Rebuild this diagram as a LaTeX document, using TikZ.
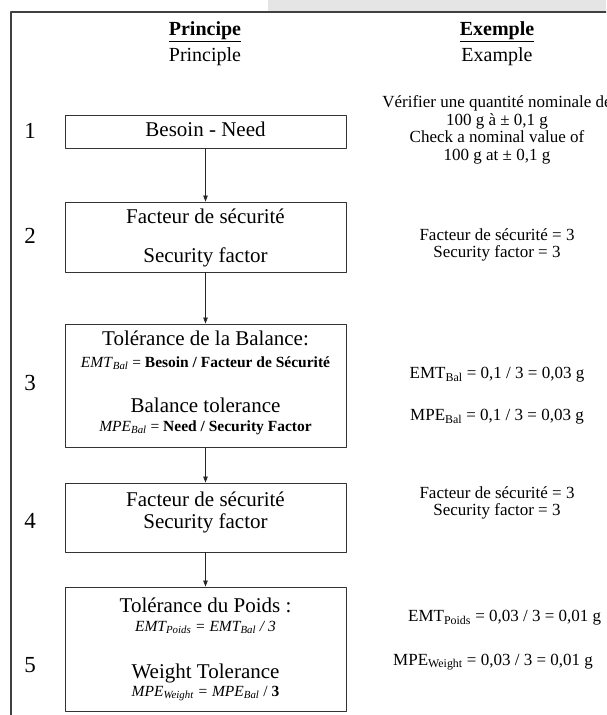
\documentclass[tikz,border=0pt]{standalone}
\usepackage{fontspec}
\setmainfont{Liberation Serif}
\usetikzlibrary{arrows.meta}

\begin{document}
\begin{tikzpicture}[x=1pt,y=-1pt,line cap=round,line join=round,>={Triangle[length=6pt,width=4.5pt]},
    stepbox/.style={draw=black!80,line width=0.9pt,minimum width=281pt,inner sep=0pt},
    boxtxt/.style={font=\fontsize{21}{24}\selectfont,text height=14pt,text depth=4pt,inner sep=0pt},
    formtxt/.style={font=\fontsize{15.5}{17}\selectfont,text height=11pt,text depth=3pt,inner sep=0pt},
    headtxt/.style={font=\fontsize{20}{24}\selectfont,inner sep=0pt},
    numtxt/.style={font=\fontsize{23}{24}\selectfont,inner sep=0pt},
    extxt/.style={font=\fontsize{17}{17.5}\selectfont,align=center,inner sep=0pt},
    conn/.style={line width=0.7pt,draw=black!85}]
                \clip (0,0) rectangle (606,715);
                % frame
                \fill [black!10] (268,0) rectangle (606,12);
                \draw [line width=1.3pt,draw=black!75] (606,12) -- (11,12) -- (11,715);
                % headers
                \node[headtxt] (hp) at (205,32) {\underline{\textbf{Principe}}};
                \node[headtxt] (hpe) at (205,57) {Principle};
                \node[headtxt] (he) at (497,32) {\underline{\textbf{Exemple}}};
                \node[headtxt] (hee) at (497,57) {Example};
                % steps
                \node[stepbox,minimum height=33pt,boxtxt] (b1) at (205.5,131.5) {Besoin - Need};
                \node[stepbox,minimum height=70pt] (b2) at (205.5,237) {};
                \node[stepbox,minimum height=123pt] (b3) at (205.5,385.5) {};
                \node[stepbox,minimum height=69pt] (b4) at (205.5,517.5) {};
                \node[stepbox,minimum height=124pt] (b5) at (205.5,649) {};
                \foreach \a/\b in {b1/b2,b2/b3,b3/b4,b4/b5}
                    \draw [->,conn] (\a) -- (\b);
                \node[boxtxt] (t2a) at (205.5,218) {Facteur de sécurité};
                \node[boxtxt] (t2b) at (205.5,257) {Security factor};
                \node[boxtxt] (t3a) at (205.5,340) {Tolérance de la Balance:};
                \node[formtxt] (t3b) at (205.5,363) {\textit{EMT}\textsubscript{\textit{Bal}} = \textbf{Besoin / Facteur de Sécurité}};
                \node[boxtxt] (t3c) at (205.5,407) {Balance tolerance};
                \node[formtxt] (t3d) at (205.5,427) {\textit{MPE}\textsubscript{\textit{Bal}} = \textbf{Need / Security Factor}};
                \node[boxtxt] (t4a) at (205.5,501) {Facteur de sécurité};
                \node[boxtxt] (t4b) at (205.5,523) {Security factor};
                \node[boxtxt] (t5a) at (205.5,607) {Tolérance du Poids :};
                \node[formtxt] (t5b) at (205.5,627) {\textit{EMT\textsubscript{Poids} = EMT\textsubscript{Bal} / 3}};
                \node[boxtxt] (t5c) at (205.5,673) {Weight Tolerance};
                \node[formtxt] (t5d) at (205.5,692) {\textit{MPE\textsubscript{Weight} = MPE\textsubscript{Bal}} / \textbf{3}};
                % step numbers
                \foreach \n/\y in {1/131,2/236,3/383,4/521,5/665}
                    \node[numtxt] (n\n) at (30,\y) {\n};
                % example column
                \node[extxt] (e1) at (497,130) {Vérifier une quantité nominale de\\100 g à ± 0,1 g\\Check a nominal value of\\100 g at ± 0,1 g};
                \node[extxt] (e2) at (497,245) {Facteur de sécurité = 3\\Security factor = 3};
                \node[extxt] (e3a) at (497,375) {EMT\textsubscript{Bal} = 0,1 / 3 = 0,03 g};
                \node[extxt] (e3b) at (497,417) {MPE\textsubscript{Bal} = 0,1 / 3 = 0,03 g};
                \node[extxt] (e4) at (497,503) {Facteur de sécurité = 3\\Security factor = 3};
                \node[extxt,anchor=west] (e5a) at (408,618) {EMT\textsubscript{Poids} = 0,03 / 3 = 0,01 g};
                \node[extxt,anchor=west] (e5b) at (393,662) {MPE\textsubscript{Weight} = 0,03 / 3 = 0,01 g};
\end{tikzpicture}
\end{document}
